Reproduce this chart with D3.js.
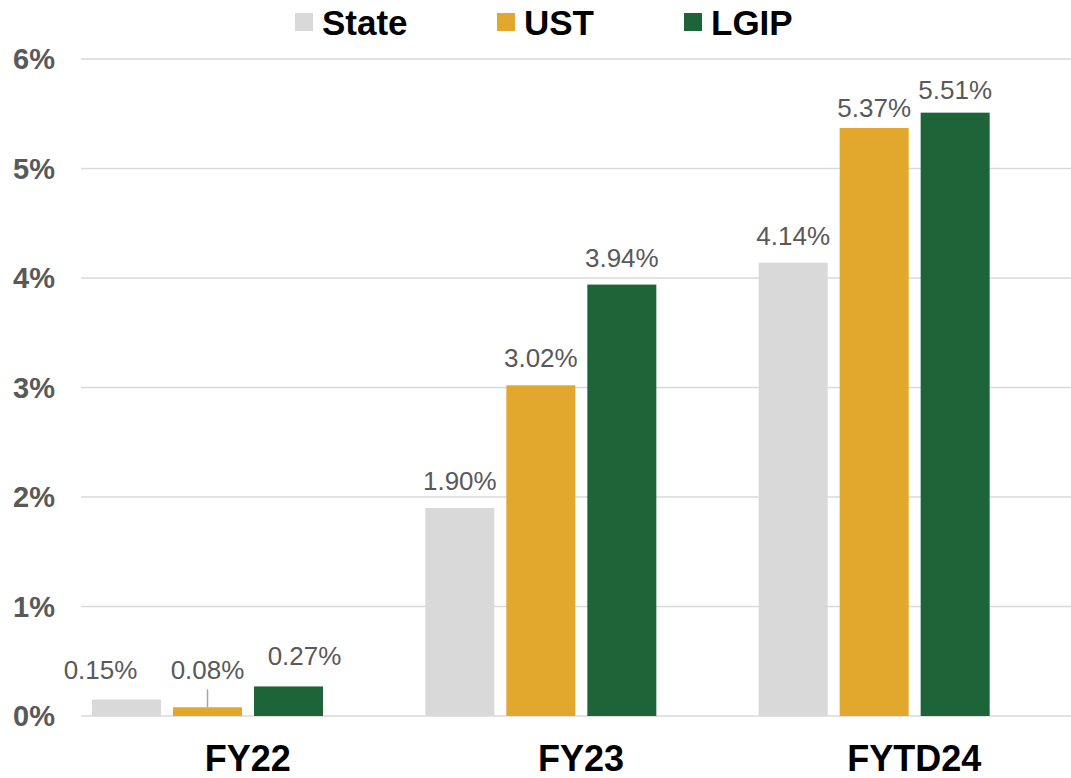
<!DOCTYPE html>
<html>
<head>
<meta charset="utf-8">
<script src="https://cdn.jsdelivr.net/npm/d3@7"></script>
<style>
  body { margin: 0; background: #fff; }
  svg { font-family: "Liberation Sans", Arial, sans-serif; }
</style>
</head>
<body>
<div id="viz"></div>
<script>
// data
const categories = ["FY22", "FY23", "FYTD24"];
const seriesNames = ["State", "UST", "LGIP"];
const stateValues = [0.15, 1.90, 4.14];
const ustValues = [0.08, 3.02, 5.37];
const lgipValues = [0.27, 3.94, 5.51];
const yTicks = [0, 1, 2, 3, 4, 5, 6];
const colors = ["#d9d9d9", "#e1a82d", "#1e6439"];

// hand-placed label nudges (px) per series / category, like in the original
const labelDx = [[-26, 0, 0], [0, 0, 0], [16, 0, 0]];
const labelDy = [[-3, 0, 0], [-10, 0, 7], [-3, 0, 4]];

const seriesValues = [stateValues, ustValues, lgipValues];

const width = 1071, height = 778;

const svg = d3.select("#viz")
  .append("svg")
  .attr("width", width)
  .attr("height", height);

//scales
const y = d3.scaleLinear().domain([0, 6]).range([716, 59]);
const x0 = d3.scaleBand().domain(categories).range([41, 1041]);
const x1 = d3.scaleBand().domain(seriesNames).range([51, 282]).paddingInner(0.148);
// category labels sit a little right of the bar groups in the original
const xLabel = d3.scaleBand().domain(categories).range([81, 1081]);

//gridlines
svg.append("g")
  .selectAll("line")
  .data(yTicks)
  .join("line")
  .attr("x1", 81)
  .attr("x2", width)
  .attr("y1", d => y(d))
  .attr("y2", d => y(d))
  .attr("stroke", "#d9d9d9")
  .attr("stroke-width", 1.5);

//y axis labels
svg.append("g")
  .selectAll("text")
  .data(yTicks)
  .join("text")
  .attr("x", 55)
  .attr("y", d => y(d))
  .attr("dy", "0.35em")
  .attr("text-anchor", "end")
  .style("font-size", "29px")
  .style("font-weight", "bold")
  .attr("fill", "#595959")
  .text(d => d + "%");

//bars
const groups = svg.append("g")
  .selectAll("g")
  .data(categories)
  .join("g")
  .attr("transform", d => `translate(${x0(d)},0)`);

const cells = groups.selectAll("g")
  .data((c, ci) => seriesNames.map((s, si) => ({ cat: c, ci: ci, series: s, si: si, value: seriesValues[si][ci] })))
  .join("g");

cells.append("rect")
  .attr("x", d => x1(d.series))
  .attr("width", x1.bandwidth())
  .attr("y", d => y(d.value))
  .attr("height", d => y(0) - y(d.value))
  .attr("fill", d => colors[d.si]);

const labelX = d => x1(d.series) + x1.bandwidth() / 2 + labelDx[d.si][d.ci];
const labelY = d => y(d.value) - 18 + labelDy[d.si][d.ci];

// leader line for the label that got lifted off its bar
cells.filter(d => labelDy[d.si][d.ci] <= -10).append("line")
  .attr("x1", d => x1(d.series) + x1.bandwidth() / 2)
  .attr("x2", d => x1(d.series) + x1.bandwidth() / 2)
  .attr("y1", d => labelY(d) + 10)
  .attr("y2", d => y(d.value))
  .attr("stroke", "#a6a6a6")
  .attr("stroke-width", 1.5);

cells.append("text")
  .attr("x", labelX)
  .attr("y", labelY)
  .attr("text-anchor", "middle")
  .style("font-size", "26px")
  .attr("fill", "#595959")
  .text(d => d.value.toFixed(2) + "%");

//category labels
svg.append("g")
  .selectAll("text")
  .data(categories)
  .join("text")
  .attr("x", d => xLabel(d) + xLabel.bandwidth() / 2)
  .attr("y", 771)
  .attr("text-anchor", "middle")
  .style("font-size", "36px")
  .style("font-weight", "bold")
  .attr("fill", "#000")
  .text(d => d);

//legend
const legendX = [295, 497, 684];
const legend = svg.append("g")
  .selectAll("g")
  .data(seriesNames)
  .join("g")
  .attr("transform", (d, i) => `translate(${legendX[i]},0)`);

legend.append("rect")
  .attr("x", 0)
  .attr("y", 13)
  .attr("width", 18)
  .attr("height", 18)
  .attr("fill", (d, i) => colors[i]);

legend.append("text")
  .attr("x", 27)
  .attr("y", 35)
  .style("font-size", "35px")
  .style("font-weight", "bold")
  .attr("fill", "#000")
  .text(d => d);
</script>
</body>
</html>
